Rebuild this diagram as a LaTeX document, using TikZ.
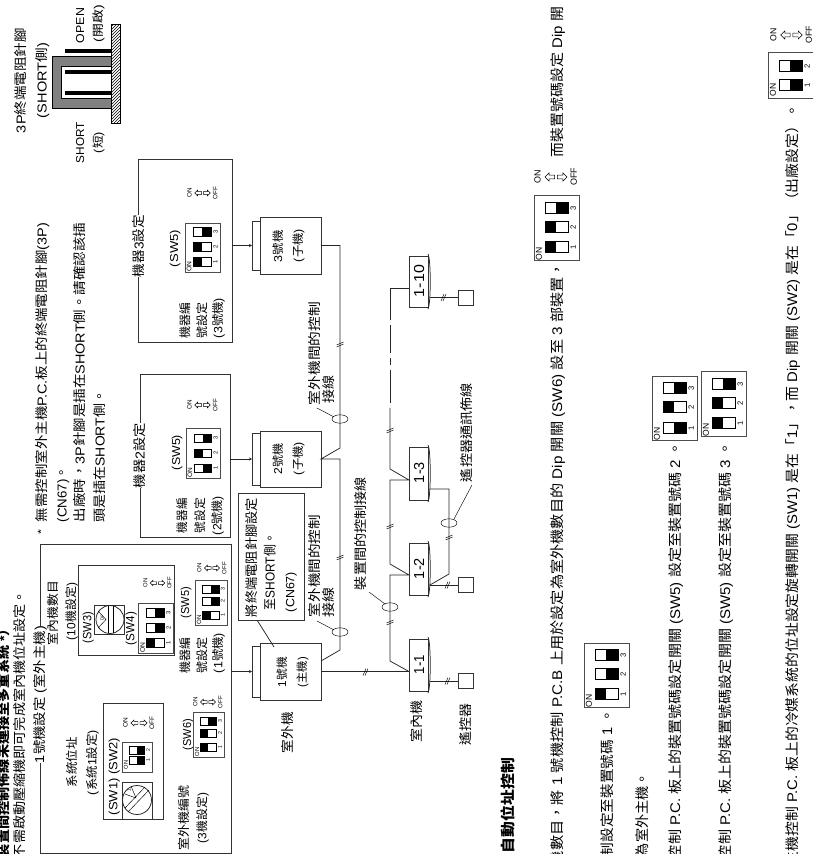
\documentclass[tikz,border=0pt]{standalone}
\usepackage{fontspec}
\usepackage{graphicx}
\usetikzlibrary{arrows.meta}
\setmainfont{Liberation Sans}
\newfontfamily\cjkf{Noto Sans CJK TC}
\newcount\cjkn
\newcommand{\markcjk}[2]{\cjkn=#1\relax\loop\XeTeXcharclass\cjkn=1 \ifnum\cjkn<#2\relax\advance\cjkn by 1\repeat}
\markcjk{"3000}{"303F}
\markcjk{"4E00}{"9FFF}
\markcjk{"FF00}{"FFEF}
\XeTeXinterchartokenstate=1
\XeTeXinterchartoks 0 1={\cjkf}
\XeTeXinterchartoks 1 0={\rmfamily}
\XeTeXinterchartoks 4095 1={\cjkf}
\XeTeXinterchartoks 1 4095={\rmfamily}
\newsavebox\tbx
\newlength\tbw
\newcounter{tc}
\newcommand{\Tgen}[6]{%
 \stepcounter{tc}%
 \node[txt,#6] (t\thetc) at ({#1+0.36*#4},#2) {\sbox\tbx{\fontsize{#4}{#4}\selectfont\rmfamily #5}\setlength\tbw{\wd\tbx}\pgfmathsetmacro\tratio{(#2-#3)/\tbw}\scalebox{\tratio}[1]{\usebox\tbx}};%
}
\newcommand{\T}[5]{\Tgen{#1}{#2}{#3}{#4}{#5}{}}
\newcommand{\TF}[5]{\Tgen{#1}{#2}{#3}{#4}{#5}{fill=white}}
\newcommand{\onoff}[3]{%
 \pgfmathsetmacro\ss{(#2-#1)/32}%
 \pgfmathsetmacro\fsz{\ss*6.5}%
 \stepcounter{tc}%
 \node[small,font=\fontsize{\fsz}{7}\selectfont] (t\thetc) at ({#1+2.5*\ss},#3) {ON};%
 \stepcounter{tc}%
 \node[small,font=\fontsize{\fsz}{7}\selectfont] (t\thetc) at ({#1+29*\ss},#3) {OFF};%
 \draw[thin line] ({#1+8*\ss},#3)--({#1+11*\ss},{#3-3*\ss})--({#1+11*\ss},{#3-1.4*\ss})--({#1+15*\ss},{#3-1.4*\ss})--({#1+15*\ss},{#3+1.4*\ss})--({#1+11*\ss},{#3+1.4*\ss})--({#1+11*\ss},{#3+3*\ss})--cycle;%
 \draw[thin line] ({#1+24*\ss},#3)--({#1+21*\ss},{#3-3*\ss})--({#1+21*\ss},{#3-1.4*\ss})--({#1+17*\ss},{#3-1.4*\ss})--({#1+17*\ss},{#3+1.4*\ss})--({#1+21*\ss},{#3+1.4*\ss})--({#1+21*\ss},{#3+3*\ss})--cycle;%
}
% x0 x1 y0 y1 ; list y/state(0 dark left,1 dark right)/label
\newcommand{\dip}[5]{%
 \draw[dipframe] (#1,#3) rectangle (#2,#4);%
 \pgfmathsetmacro\dw{#2-#1}%
 \pgfmathsetmacro\fsz{\dw*0.17}%
 \foreach \yy/\st/\lb in {#5}{%
  \pgfmathsetmacro\xa{#1+0.24*\dw}\pgfmathsetmacro\xb{#1+0.75*\dw}\pgfmathsetmacro\xm{(\xa+\xb)/2}%
  \pgfmathsetmacro\hh{0.125*\dw}%
  \draw[thin line,fill=white] (\xa,\yy-\hh) rectangle (\xb,\yy+\hh);%
  \ifnum\st=0 \fill[black] (\xa,\yy-\hh) rectangle (\xm,\yy+\hh);\else \fill[black] (\xm,\yy-\hh) rectangle (\xb,\yy+\hh);\fi
  \stepcounter{tc}%
  \node[small,font=\fontsize{\fsz}{7}\selectfont] (t\thetc) at ({#1+0.87*\dw},\yy) {\lb};%
 }%
}
\newcommand{\dipon}[3]{\pgfmathsetmacro\fsz{#2*0.19}\stepcounter{tc}\node[small,font=\fontsize{\fsz}{7}\selectfont] (t\thetc) at (#1,#3) {ON};}
\newcommand{\slv}[2]{\draw[thin line] (#1-3.5,#2+2)--(#1+3.5,#2-1) (#1-3.5,#2)--(#1+3.5,#2-3);}
\newcommand{\slh}[2]{\draw[thin line] (#1-2,#2+3.5)--(#1+1,#2-3.5) (#1,#2+3.5)--(#1+3,#2-3.5);}
\tikzset{
 txt/.style={anchor=base west,rotate=90,inner sep=0pt,outer sep=0pt},
 small/.style={rotate=90,inner sep=0pt,outer sep=0pt,anchor=center},
 wire/.style={line width=0.75pt,black!85},
 thin line/.style={line width=0.45pt,black},
 dipframe/.style={line width=0.8pt,black!70},
 boxed/.style={draw,line width=0.75pt,black!80,inner sep=0pt,outer sep=0pt,fill=white},
 panel/.style={draw,line width=0.75pt,black!80,inner sep=0pt,outer sep=0pt},
 arr/.style={wire,-{Stealth[length=3pt,width=3pt]}},
}
\begin{document}
\begin{tikzpicture}[x=1pt,y=-1pt]
\useasboundingbox (0,0) rectangle (813,854);
\clip (0,0) rectangle (813,854);
\fill[white] (0,0) rectangle (813,854);

% ---- 3P detail
\T{21}{133}{28}{13}{3P終端電阻針腳}
\T{42}{118}{43}{13}{(SHORT側)}
\T{80}{43}{8}{11.5}{OPEN}
\T{98}{42}{5}{11.5}{(開啟)}
\T{80}{163}{122}{11.5}{SHORT}
\T{98}{153}{132}{11.5}{(短)}
\draw[line width=0.8pt,fill=black!50] (111,56)--(52,56)--(52,108)--(111,108)--(111,98)--(61,98)--(61,66)--(111,66)--cycle;
\fill[black] (65,48.5) rectangle (111,52.5);
\fill[black] (65,70) rectangle (111,74);
\fill[black] (65,91) rectangle (111,95);
\begin{scope}
 \clip (111,24) rectangle (120,123);
 \foreach \k in {0,3,...,114}{\draw[line width=0.4pt] (111,24+\k)--(120,24+\k-9);}
\end{scope}
\draw[line width=0.7pt] (111,24) rectangle (120,123);

% ---- top notes
\T{4}{858}{622}{13}{\bfseries 裝置間控制佈線未連接至多重系統 *）}
\T{20}{858}{590}{13}{不需啟動壓縮機即可完成室內機位址設定。}
\T{41}{534}{529}{10}{*}
\T{42}{522}{223}{13}{無需控制室外主機P.C.板上的終端電阻針腳(3P)}
\T{62}{522}{466}{13}{(CN67)。}
\T{80}{522}{223}{13}{出廠時，3P針腳是插在SHORT側。請確認該插}
\T{100}{522}{390}{13}{頭是插在SHORT側。}

% ---- panel 1
\node[panel,minimum width=191pt,minimum height=309pt] (b1) at (135.5,698.5) {};
\TF{39.5}{763}{626}{13}{1號機設定 (室外主機)}
\T{53}{645}{581}{12}{室內機數目}
\T{71}{640}{583}{12}{(10機設定)}
\T{72}{787}{737}{12}{系統位址}
\T{92}{795}{730}{12}{(系統1設定)}
\node[panel,minimum width=60pt,minimum height=116pt] (b1a) at (133,761) {};
\node[panel,minimum width=96pt,minimum height=90pt] (b1b) at (126,610) {};
\T{113}{815}{738}{12}{(SW1) (SW2)}
\T{87}{643}{612}{12}{(SW3)}
\T{130}{645}{612}{12}{(SW4)}
% rotary SW1
\node[panel,minimum width=30pt,minimum height=37pt] (sw1) at (137,800.5) {};
\draw[wire] (137,800) circle (14.5);
\draw[thin line] (125,808)--(145,787) (128,812)--(149,790);
\draw[thin line] (136,798)--(125,794) (136,798)--(131,786);
\node[small,font=\fontsize{5}{5}\selectfont] (sw1l) at (129,790) {1};
% rotary SW3
\node[panel,minimum width=30pt,minimum height=29pt] (sw3) at (109.5,619.5) {};
\draw[wire] (110,619.5) circle (14);
\draw[thin line] (108,606)--(108,633) (113,606)--(113,633);
\draw[thin line] (106,619.5)--(98,611) (106,619.5)--(98,628);
\node[small,font=\fontsize{5}{5}\selectfont] (sw3l) at (102,618) {0/};
% dips in panel 1
\dip{122}{152}{742}{772}{760/1/1,750/1/2}
\dipon{126}{30}{765}
\onoff{123}{155}{723}
\dip{138}{173}{603}{653}{643/0/1,628/1/2,613/1/3}
\dipon{142.5}{35}{648}
\onoff{143}{172}{583}
\T{185}{618}{587}{11.5}{(SW5)}
\dip{195}{227}{580}{625}{615/0/1,601/1/2,589/1/3}
\dipon{199}{32}{620}
\onoff{197}{227}{568}
\T{185}{673}{637}{12}{機器編}
\T{202}{673}{637}{12}{號設定}
\T{218}{673}{633}{12}{(1號機)}
\T{187}{750}{719}{11.5}{(SW6)}
\dip{193}{224}{712}{757}{747/0/1,733/0/2,721/1/3}
\dipon{197}{31}{752}
\onoff{193}{223}{702}
\T{184}{850}{785}{12}{室外機編號}
\T{202}{843}{793}{12}{(3機設定)}

% ---- panel 2
\node[panel,minimum width=90pt,minimum height=163pt] (b2) at (185,455.5) {};
\TF{140}{488}{423}{13}{機器2設定}
\T{176}{470}{435}{11.5}{(SW5)}
\dip{186}{220}{428}{478}{468/1/1,453/0/2,438/1/3}
\dipon{190}{34}{473}
\onoff{187}{218}{405}
\T{182}{533}{498}{12}{機器編}
\T{200}{533}{498}{12}{號設定}
\T{217}{535}{496}{12}{(2號機)}

% ---- panel 3
\node[panel,minimum width=94pt,minimum height=183pt] (b3) at (185,250.5) {};
\TF{139}{277}{215}{13}{機器3設定}
\T{174}{267}{230}{11.5}{(SW5)}
\dip{185}{220}{223}{272}{262/0/1,247/0/2,232/1/3}
\dipon{189}{35}{267}
\onoff{187}{218}{193}
\T{185}{338}{302}{12}{機器編}
\T{202}{338}{302}{12}{號設定}
\T{218}{338}{298}{12}{(3號機)}

% ---- outdoor units
\node[boxed,minimum width=8pt,minimum height=51pt] (us1) at (256,671.5) {};
\node[boxed,minimum width=8pt,minimum height=52pt] (us2) at (256,459) {};
\node[boxed,minimum width=8pt,minimum height=49pt] (us3) at (256,245.5) {};
\node[boxed,minimum width=61pt,minimum height=57pt] (u1) at (290.5,671.5) {};
\node[boxed,minimum width=61pt,minimum height=56pt] (u2) at (290.5,459) {};
\node[boxed,minimum width=61pt,minimum height=57pt] (u3) at (290.5,245.5) {};
\draw[arr] (b1.east |- us1.west) -- (us1.west);
\draw[arr] (b2.east |- us2.west) -- (us2.west);
\draw[arr] (b3.east |- us3.west) -- (us3.west);
\T{282}{687}{657}{11.5}{1號機}
\T{302}{687}{657}{11.5}{(主機)}
\T{278}{474}{443}{11.5}{2號機}
\T{298}{475}{442}{11.5}{(子機)}
\T{278}{262}{230}{11.5}{3號機}
\T{298}{262}{229}{11.5}{(子機)}
\T{288}{753}{712}{13}{室外機}

% callout box
\node[panel,fill=white,minimum width=66pt,minimum height=127pt] (note) at (271,556.5) {};
\T{252}{617}{498}{13}{將終端電阻針腳設定}
\T{270}{610}{533}{13}{至SHORT側。}
\T{290}{612}{572}{12}{(CN67)}
\coordinate (notep) at (257,620);
\coordinate (u1top) at (274,647);
\draw[wire] (notep)--(u1top);

% outdoor wiring
\coordinate (u1a) at ([yshift=10.5pt]u1.east);
\coordinate (j1) at (340,650);
\coordinate (j2) at (340,459);
\coordinate (j3) at (340,448);
\coordinate (j4) at (340,245.5);
\draw[wire] (u1a)--(j1)--(j2)--(u2.east)--(j3)--(j4)--(u3.east);
\slv{340}{345}
\slv{340}{558}
\draw[thin line] (340,419) ellipse [x radius=8,y radius=4.2];
\draw[thin line] (340,632) ellipse [x radius=8,y radius=4.2];
\coordinate (l1a) at (317,408); \coordinate (l1b) at (334,417);
\coordinate (l2a) at (317,621); \coordinate (l2b) at (334,630);
\draw[thin line] (l1a)--(l1b);
\draw[thin line] (l2a)--(l2b);
\T{315}{405}{302}{13}{室外機間的控制}
\T{329}{403}{375}{13}{接線}
\T{315}{617}{515}{13}{室外機間的控制}
\T{329}{617}{587}{13}{接線}

% ---- indoor units
\newcommand{\iduside}[2]{\draw[wire] (428,#1-2) .. controls (431,#1+3) and (431,#2-3) .. (428,#2+2);}
\node[boxed,minimum width=19pt,minimum height=52pt] (i1) at (418.5,665) {};
\node[boxed,minimum width=19pt,minimum height=52pt] (i2) at (418.5,569) {};
\node[boxed,minimum width=19pt,minimum height=53pt] (i3) at (418.5,473.5) {};
\node[boxed,minimum width=19pt,minimum height=51pt] (i10) at (418.5,281.5) {};
\iduside{639}{691}
\iduside{543}{595}
\iduside{447}{500}
\iduside{256}{307}
\T{419}{674}{655}{14.5}{1-1}
\T{419}{579}{558}{14.5}{1-2}
\T{419}{483}{462}{14.5}{1-3}
\T{419}{297}{265}{14.5}{1-10}
\T{417}{742}{700}{13}{室內機}
\T{466}{745}{703}{13}{遙控器}
\T{508}{853}{758}{14.5}{\bfseries 自動位址控制}

% control line between indoor units
\coordinate (c1) at (i1.west |- u1.east);
\draw[wire] (u1.east)--(c1);
\coordinate (k1) at (390,661);
\coordinate (k2) at (390,575);
\coordinate (c2) at (409,575);
\coordinate (k3) at (390,564);
\coordinate (k4) at (390,480);
\coordinate (c3) at (409,480);
\coordinate (k5) at (390,469);
\coordinate (k6) at (390,408);
\draw[wire] (c1)--(k1)--(k2)--(c2)--(k3)--(k4)--(c3)--(k5)--(k6);
\coordinate (k7) at (390,403); \coordinate (k8) at (390,370);
\coordinate (k9) at (390,365); \coordinate (k10) at (390,358);
\coordinate (k11) at (390,353); \coordinate (k12) at (390,325);
\coordinate (k13) at (390,320); \coordinate (k14) at (390,288);
\coordinate (c10) at (409,288);
\draw[wire] (k7)--(k8);
\draw[wire] (k9)--(k10);
\draw[wire] (k11)--(k12);
\draw[wire] (k13)--(k14)--(c10);
\slh{365}{672}
\slv{390}{623}
\slv{390}{527}
\slv{390}{431}
\draw[thin line] (390,607) ellipse [x radius=8,y radius=4.2];
\coordinate (l3a) at (369,592); \coordinate (l3b) at (385,604);
\draw[thin line] (l3a)--(l3b);
\T{361}{590}{477}{13}{裝置間的控制接線}

% remote controllers
\node[boxed,minimum width=15pt,minimum height=15pt] (r1) at (465.5,681) {};
\node[boxed,minimum width=15pt,minimum height=15pt] (r2) at (465.5,585) {};
\node[boxed,minimum width=15pt,minimum height=15pt] (r10) at (465.5,297.5) {};
\coordinate (e1) at (430,681);
\coordinate (e2) at (430,585);
\coordinate (e10) at (430,297.5);
\draw[wire] (e1)--(r1.west);
\draw[wire] (e2)--(r2.west);
\draw[wire] (e10)--(r10.west);
\slh{447}{681}
\slh{447}{585}
\slh{443}{297.5}
\coordinate (m1) at (449,574);
\coordinate (m2) at (449,489);
\coordinate (e3) at (430,489);
\draw[wire] (e2)--(m1)--(m2)--(e3);
\slv{449}{538}
\draw[thin line] (449,523) ellipse [x radius=8,y radius=4.2];
\coordinate (l4a) at (472,485); \coordinate (l4b) at (454,519);
\draw[thin line] (l4a)--(l4b);
\T{467}{482}{383}{13}{遙控器通訊佈線}

% ---- lower text
\T{557}{866}{262}{14}{機數目，將 1 號機控制 P.C.B 上用於設定為室外機數目的 Dip 開關 (SW6) 設至 3 部裝置，}
\dip{534}{579}{195}{260}{247/0/1,227/0/2,208/1/3}
\dipon{539}{45}{254}
\onoff{534}{578}{177}
\T{557}{157}{7}{14}{而裝置號碼設定 Dip 開}
\T{607}{857}{709}{14}{制設定至裝置號碼 1 。}
\dip{584}{629}{643}{707}{694/0/1,674/1/2,655/1/3}
\dipon{589}{45}{701}
\T{642}{857}{772}{14}{為室外主機。}
\T{675}{860}{441}{14}{控制 P.C. 板上的裝置號碼設定開關 (SW5) 設定至裝置號碼 2 。}
\dip{652}{697}{376}{440}{428/1/1,407/0/2,388/1/3}
\dipon{657}{45}{434}
\T{725}{860}{441}{14}{控制 P.C. 板上的裝置號碼設定開關 (SW5) 設定至裝置號碼 3 。}
\dip{701}{746}{371}{436}{423/0/1,403/0/2,384/1/3}
\dipon{706}{45}{430}
\T{792}{866}{104}{14}{主機控制 P.C. 板上的冷媒系統的位址設定旋轉開關 (SW1) 是在「1」，而 Dip 開關 (SW2) 是在「0」（出廠設定）。}
\dip{768}{813}{52}{98}{85/1/1,66/1/2}
\dipon{773}{45}{90}
\onoff{770}{813}{35}
\end{tikzpicture}
\end{document}
